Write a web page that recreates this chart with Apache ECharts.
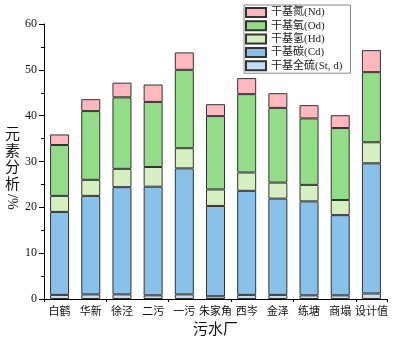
<!DOCTYPE html>
<html><head><meta charset="utf-8">
<script src="https://cdn.jsdelivr.net/npm/echarts@6/dist/echarts.min.js"></script>
<style>html,body{margin:0;padding:0;background:#fff}#c{width:398px;height:344px}</style>
</head><body><div id="c"></div>
<script>
var categories = ['白鹤','华新','徐泾','二污','一污','朱家角','西岑','金泽','练塘','商塌','设计值'];
var sulfur   = [0.9, 1.0, 1.0, 0.8, 1.0, 0.6, 0.9, 0.9, 0.8, 0.8, 1.2];
var carbon   = [18.1, 21.5, 23.4, 23.7, 27.5, 19.7, 22.7, 21.0, 20.5, 17.5, 28.4];
var hydrogen = [3.5, 3.5, 4.0, 4.3, 4.4, 3.6, 4.0, 3.5, 3.6, 3.3, 4.6];
var oxygen   = [11.1, 15.0, 15.6, 14.2, 17.1, 16.0, 17.1, 16.3, 14.5, 15.7, 15.3];
var nitrogen = [2.3, 2.6, 3.2, 3.8, 3.8, 2.6, 3.5, 3.2, 2.9, 2.8, 4.8];
var seriesNames = ['干基全硫(St, d)','干基碳(Cd)','干基氢(Hd)','干基氧(Od)','干基氮(Nd)'];
var yTicks = [0, 10, 20, 30, 40, 50, 60];

var colors = ['#c5ddf0','#88c1ea','#d5efc0','#93dd88','#ffb8bd'];
var font = 'Liberation Serif, Noto Sans CJK SC';
var values = [sulfur, carbon, hydrogen, oxygen, nitrogen];
var series = values.map(function(v, i){
  return {name: seriesNames[i], type: 'bar', stack: 'a', data: v, barWidth: 19,
    itemStyle: {color: colors[i], borderColor: '#333', borderWidth: 1}};
});
var chart = echarts.init(document.getElementById('c'), null, {renderer: 'canvas'});
chart.setOption({
  animation: false,
  grid: {left: 44, right: 11, top: 24, bottom: 45},
  legend: {
    orient: 'vertical', left: 244, top: 5,
    data: seriesNames.slice().reverse(),
    itemWidth: 20, itemHeight: 9, itemGap: 2.3,
    padding: [2, 8, 2, 1],
    borderColor: '#888', borderWidth: 1,
    textStyle: {fontFamily: font, fontSize: 11, color: '#222'},
    icon: 'rect'
  },
  graphic: [
    {type: 'text', left: 5, top: 127,
      style: {text: '元\n素\n分\n析', font: '15px ' + font, fill: '#111', lineHeight: 16.5}},
    {type: 'text', x: 19, y: 194, rotation: -Math.PI / 2,
      style: {text: '/%', font: '14px ' + font, fill: '#111', verticalAlign: 'top', align: 'left'}}
  ],
  xAxis: [{
    type: 'category', data: categories,
    name: '污水厂', nameLocation: 'middle', nameGap: 24,
    nameTextStyle: {fontFamily: font, fontSize: 15, color: '#111'},
    axisLine: {lineStyle: {color: '#000', width: 1}},
    axisTick: {alignWithLabel: true, length: 5, lineStyle: {color: '#000'}},
    axisLabel: {fontFamily: font, fontSize: 11, color: '#111', margin: 8, interval: 0}
  }, {
    type: 'category', data: categories, position: 'bottom',
    axisLine: {show: false},
    axisTick: {show: true, length: 3, lineStyle: {color: '#000'}},
    axisLabel: {show: false}
  }],
  yAxis: {
    type: 'value', min: 0, max: 60, interval: 10,
    axisLine: {show: true, lineStyle: {color: '#000', width: 1}},
    axisTick: {show: true, length: 5, lineStyle: {color: '#000'}},
    minorTick: {show: true, splitNumber: 2, length: 3, lineStyle: {color: '#000'}},
    splitLine: {show: false},
    axisLabel: {fontFamily: font, fontSize: 12, color: '#111', margin: 7,
      formatter: function(v){ return yTicks.indexOf(v) >= 0 ? String(v) : ''; }}
  },
  series: series
});
</script></body></html>
